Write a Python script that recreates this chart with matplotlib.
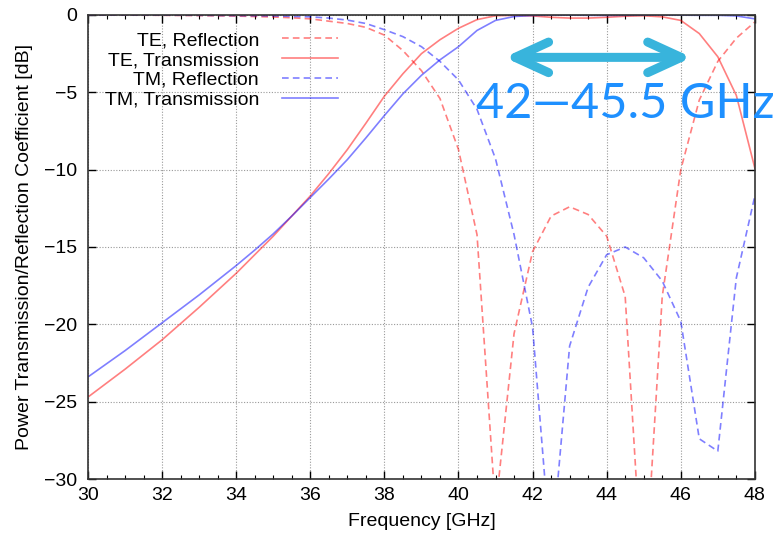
import matplotlib
matplotlib.use("Agg")
import matplotlib.pyplot as plt
from matplotlib.ticker import MultipleLocator
import numpy as np

# frequency grid [GHz]
freq = np.arange(30.0, 48.01, 0.5)

te_refl = [0.0, -0.005, -0.01, -0.015, -0.02, -0.03, -0.04, -0.055, -0.07, -0.1,
           -0.13, -0.18, -0.25, -0.4, -0.55, -0.8, -1.3, -2.3, -3.6, -5.4,
           -8.7, -14.2, -32.0, -20.6, -15.3, -13.0, -12.4, -12.9, -14.3, -18.2,
           -38.0, -18.2, -10.0, -5.5, -3.0, -1.5, -0.45]
te_trans = [-24.7, -23.8, -22.9, -21.95, -21.0, -19.95, -18.9, -17.8, -16.7, -15.5,
            -14.3, -13.0, -11.7, -10.25, -8.7, -7.0, -5.25, -3.8, -2.5, -1.6,
            -0.86, -0.3, -0.05, -0.02, -0.06, -0.15, -0.2, -0.2, -0.15, -0.08,
            -0.05, -0.12, -0.35, -1.2, -2.7, -5.2, -9.9]
tm_refl = [0.0, -0.003, -0.005, -0.008, -0.01, -0.015, -0.02, -0.03, -0.04, -0.05,
           -0.06, -0.09, -0.12, -0.2, -0.33, -0.55, -0.95, -1.4, -2.05, -3.0,
           -4.2, -6.1, -9.3, -14.2, -20.2, -35.0, -21.4, -17.6, -15.5, -15.0,
           -15.7, -17.2, -19.8, -27.4, -28.2, -17.0, -11.7]
tm_trans = [-23.4, -22.55, -21.7, -20.8, -19.9, -19.0, -18.1, -17.15, -16.2, -15.2,
            -14.15, -13.0, -11.8, -10.6, -9.35, -7.95, -6.5, -5.1, -3.9, -2.9,
            -2.05, -1.0, -0.35, -0.1, -0.03, -0.01, -0.01, -0.02, -0.03, -0.02,
            -0.01, 0.0, -0.01, -0.02, -0.02, -0.06, -0.25]

band_lo, band_hi = 41.24, 46.3
band_label = "42\u201445.5 GHz"

plt.rcParams["font.family"] = ["Liberation Sans", "DejaVu Sans"]

fig = plt.figure(figsize=(7.79, 5.41), dpi=100)
ax = fig.add_axes([0.113, 0.1146, 0.856, 0.8577])

dash = (0, (4, 2.5))
ax.plot(freq, te_refl, color="red", alpha=0.5, lw=1.2, ls=dash, label="TE, Reflection")
ax.plot(freq, te_trans, color="red", alpha=0.5, lw=1.2, label="TE, Transmission")
ax.plot(freq, tm_refl, color="blue", alpha=0.5, lw=1.2, ls=dash, label="TM, Reflection")
ax.plot(freq, tm_trans, color="blue", alpha=0.5, lw=1.2, label="TM, Transmission")

ax.set_xlim(30, 48)
ax.set_ylim(-30, 0)
ax.xaxis.set_major_locator(MultipleLocator(2))
ax.xaxis.set_minor_locator(MultipleLocator(0.5))
ax.yaxis.set_major_locator(MultipleLocator(5))
ax.tick_params(which="both", direction="in", top=True, right=True, labelsize=14)
ax.tick_params(which="major", length=6, width=1)
ax.tick_params(which="minor", length=3, width=0.8)
ax.tick_params(axis="x", which="major", pad=6)
ax.tick_params(axis="y", which="major", pad=8)
ax.grid(True, which="major", ls=(0, (1, 1.5)), color="#999999", lw=0.8)
for s in ax.spines.values():
    s.set_linewidth(1.2)
    s.set_color("#333333")

ax.set_xlabel("Frequency [GHz]", fontsize=14, labelpad=6)
ax.set_ylabel("Power Transmission/Reflection Coefficient [dB]", fontsize=14, labelpad=8)

# gnuplot-like key: text right-aligned, sample on the right
ax.legend(loc="upper left", bbox_to_anchor=(0.025, 0.964), frameon=False,
          markerfirst=False, fontsize=14, handlelength=2.85,
          labelspacing=0.11, handletextpad=1.2, borderpad=0, borderaxespad=0)

# pass band annotation
ax.annotate("", xy=(band_lo, -2.74), xytext=(band_hi, -2.74),
            arrowprops=dict(arrowstyle="<->,head_length=1.2,head_width=0.55",
                            lw=6.5, color="#38B4DC", shrinkA=0, shrinkB=0,
                            mutation_scale=20, capstyle="round", joinstyle="round"),
            annotation_clip=False)
ax.text(40.47, -6.66, band_label, color="#1E90FF", fontsize=35,
        family=["Lato", "DejaVu Sans"],
        ha="left", va="baseline", clip_on=False)

fig.savefig("out.png", dpi=100)
